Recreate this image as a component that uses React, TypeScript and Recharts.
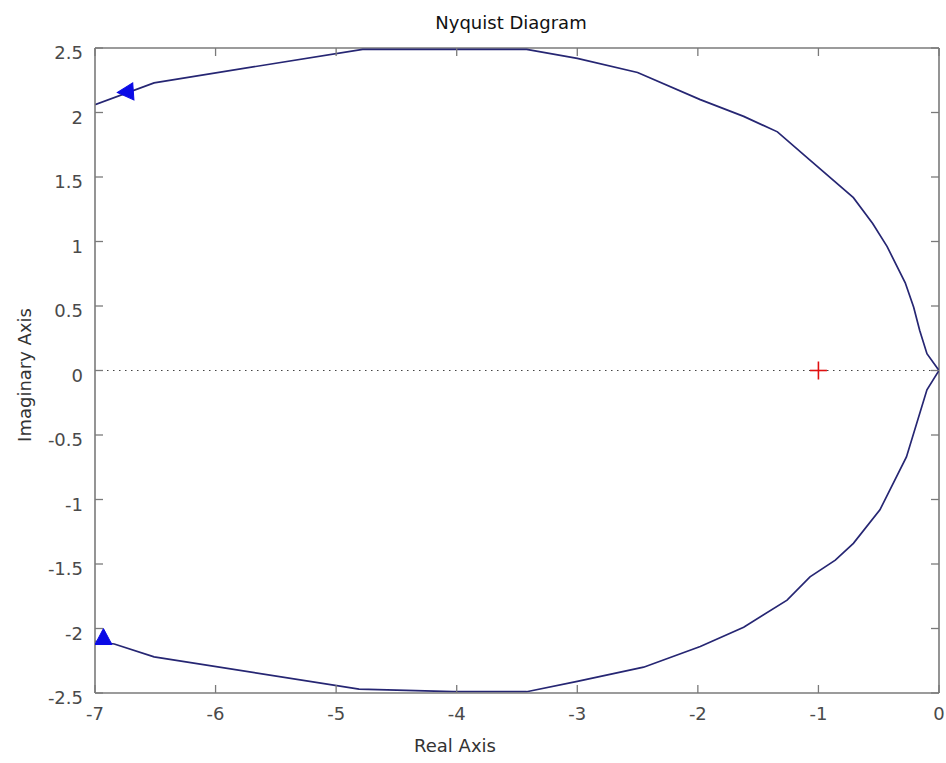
import { ComposedChart, Line, ReferenceLine, Scatter, XAxis, YAxis } from 'recharts'

const upperRe = [-7.0, -6.51, -4.78, -4.03, -3.42, -3.0, -2.5, -1.98, -1.62, -1.34, -1.07, -0.71, -0.55, -0.43, -0.28, -0.21, -0.16, -0.1, 0]
const upperIm = [2.06, 2.23, 2.49, 2.49, 2.49, 2.42, 2.31, 2.1, 1.97, 1.85, 1.63, 1.34, 1.14, 0.96, 0.68, 0.49, 0.31, 0.13, 0]
const lowerRe = [-7.0, -6.84, -6.51, -4.81, -4.03, -3.42, -3.0, -2.45, -1.98, -1.62, -1.26, -1.07, -0.86, -0.71, -0.49, -0.27, -0.1, 0]
const lowerIm = [-2.1, -2.12, -2.22, -2.47, -2.49, -2.49, -2.41, -2.3, -2.14, -1.99, -1.78, -1.6, -1.47, -1.34, -1.08, -0.67, -0.15, 0]

// direction arrows on the two branches (angle in screen degrees)
const arrowRe = [-6.74, -6.93]
const arrowIm = [2.16, -2.07]
const arrowDir = [176, -90]

const criticalRe = [-1]
const criticalIm = [0]

const xTicks = [-7, -6, -5, -4, -3, -2, -1, 0]
const yTicks = [-2.5, -2, -1.5, -1, -0.5, 0, 0.5, 1, 1.5, 2, 2.5]

const upper = upperRe.map((x, i) => ({ x, y: upperIm[i] }))
const lower = lowerRe.map((x, i) => ({ x, y: lowerIm[i] }))
const arrows = arrowRe.map((x, i) => ({ x, y: arrowIm[i], dir: arrowDir[i] }))
const critical = criticalRe.map((x, i) => ({ x, y: criticalIm[i] }))

const FONT = '"DejaVu Sans", "Liberation Sans", Arial, sans-serif'
const AXIS = '#7a7a7a'
const TICK_TEXT = '#4a4a4a'
const TICK_LEN = 8

// plot box size, used to mirror the ticks onto the top and right edges
const W = 946
const H = 763
const MARGIN = { top: 48, right: 7, bottom: 0, left: 0 }
const Y_AXIS_W = 95
const X_AXIS_H = 70
const PLOT_W = W - MARGIN.left - MARGIN.right - Y_AXIS_W
const PLOT_H = H - MARGIN.top - MARGIN.bottom - X_AXIS_H

function BottomTick(props: any) {
  const { x, y, payload } = props
  const top = y - PLOT_H
  return (
    <g>
      <line x1={x} x2={x} y1={y} y2={y - TICK_LEN} stroke={AXIS} strokeWidth={1.3} />
      <line x1={x} x2={x} y1={top} y2={top + TICK_LEN} stroke={AXIS} strokeWidth={1.3} />
      <text x={x} y={y + 27} textAnchor="middle" fill={TICK_TEXT} fontSize={18} fontFamily={FONT}>
        {String(payload.value)}
      </text>
    </g>
  )
}

function LeftTick(props: any) {
  const { x, y, payload } = props
  const right = x + PLOT_W
  return (
    <g>
      <line x1={x} x2={x + TICK_LEN} y1={y} y2={y} stroke={AXIS} strokeWidth={1.3} />
      <line x1={right} x2={right - TICK_LEN} y1={y} y2={y} stroke={AXIS} strokeWidth={1.3} />
      <text x={x - 12} y={y + 11} textAnchor="end" fill={TICK_TEXT} fontSize={18} fontFamily={FONT}>
        {String(payload.value)}
      </text>
    </g>
  )
}

function ArrowHead(props: any) {
  const { cx, cy, payload } = props
  if (cx == null || cy == null) return <g />
  return (
    <polygon
      points="9,0 -7,-8.5 -7,8.5"
      transform={`translate(${cx},${cy}) rotate(${payload.dir})`}
      fill="#0a0ae6"
      stroke="#0a0ae6"
      strokeWidth={1}
    />
  )
}

function CrossMark(props: any) {
  const { cx, cy } = props
  if (cx == null || cy == null) return <g />
  return (
    <g stroke="#e01010" strokeWidth={1.6}>
      <line x1={cx - 8.5} x2={cx + 8.5} y1={cy} y2={cy} />
      <line x1={cx} x2={cx} y1={cy - 9} y2={cy + 9} />
    </g>
  )
}

export default function App() {
  return (
    <div style={{ position: 'absolute', left: 0, top: 0, width: W, height: H, background: '#fff' }}>
      <ComposedChart width={W} height={H} margin={MARGIN}>
        <XAxis
          xAxisId="bottom"
          dataKey="x"
          type="number"
          domain={[-7, 0]}
          ticks={xTicks}
          interval={0}
          allowDataOverflow
          height={X_AXIS_H}
          tickSize={0}
          tickMargin={0}
          tickLine={false}
          tick={<BottomTick />}
          axisLine={{ stroke: AXIS, strokeWidth: 1.6 }}
        />
        <YAxis
          yAxisId="left"
          dataKey="y"
          type="number"
          domain={[-2.5, 2.5]}
          ticks={yTicks}
          interval={0}
          allowDataOverflow
          width={Y_AXIS_W}
          tickSize={0}
          tickMargin={0}
          tickLine={false}
          tick={<LeftTick />}
          axisLine={{ stroke: AXIS, strokeWidth: 1.6 }}
        />
        {/* box edges */}
        <ReferenceLine xAxisId="bottom" yAxisId="left" y={2.5} stroke={AXIS} strokeWidth={1.6} />
        <ReferenceLine xAxisId="bottom" yAxisId="left" x={0} stroke={AXIS} strokeWidth={1.6} />
        <ReferenceLine xAxisId="bottom" yAxisId="left" y={0} stroke="#444" strokeWidth={1.2} strokeDasharray="1.5 4.5" />
        <Line
          xAxisId="bottom"
          yAxisId="left"
          data={upper}
          dataKey="y"
          type="linear"
          stroke="#262673"
          strokeWidth={1.7}
          dot={false}
          isAnimationActive={false}
        />
        <Line
          xAxisId="bottom"
          yAxisId="left"
          data={lower}
          dataKey="y"
          type="linear"
          stroke="#262673"
          strokeWidth={1.7}
          dot={false}
          isAnimationActive={false}
        />
        <Scatter xAxisId="bottom" yAxisId="left" data={arrows} dataKey="y" shape={<ArrowHead />} isAnimationActive={false} />
        <Scatter xAxisId="bottom" yAxisId="left" data={critical} dataKey="y" shape={<CrossMark />} isAnimationActive={false} />
      </ComposedChart>
      <svg width={W} height={H} style={{ position: 'absolute', left: 0, top: 0, pointerEvents: 'none' }}>
        <text x={511} y={29} textAnchor="middle" fontSize={18} fontFamily={FONT} fill="#111">
          Nyquist Diagram
        </text>
        <text x={455} y={752} textAnchor="middle" fontSize={18} fontFamily={FONT} fill="#333">
          Real Axis
        </text>
        <text
          x={0}
          y={0}
          transform="translate(31,375) rotate(-90)"
          textAnchor="middle"
          fontSize={18}
          fontFamily={FONT}
          fill="#333"
        >
          Imaginary Axis
        </text>
      </svg>
    </div>
  )
}
